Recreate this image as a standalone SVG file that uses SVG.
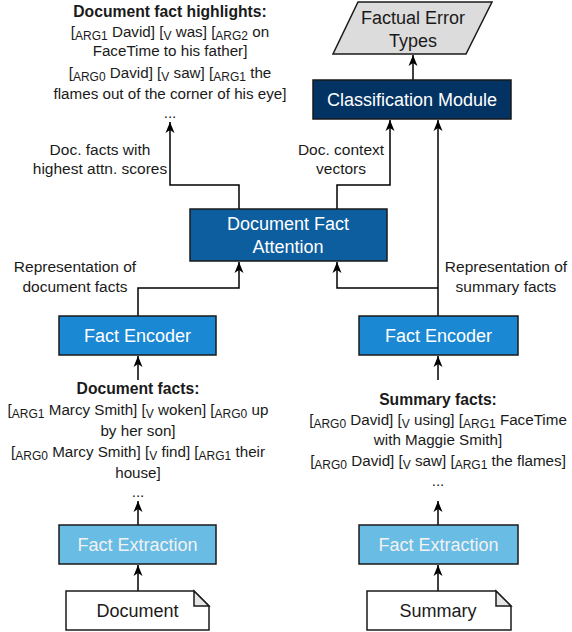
<svg xmlns="http://www.w3.org/2000/svg" width="572" height="632" viewBox="0 0 572 632">
<style>
text{font-family:"Liberation Sans",Arial,sans-serif;fill:#1a1a1a}
.t{font-size:15.2px;text-anchor:middle}
.l{font-size:15.5px;text-anchor:middle}
.b{font-weight:bold;font-size:15.7px}
.s{font-size:12px}
.n{font-size:18px;text-anchor:middle;fill:#ffffff}
.box{stroke:#1a1a1a;stroke-width:1.5}
.ln{fill:none;stroke:#000;stroke-width:1.5}
</style>
<defs>
<marker id="ah" markerUnits="userSpaceOnUse" markerWidth="12" markerHeight="12" viewBox="0 0 12 12" refX="11" refY="6" orient="auto">
<path d="M0,1.5 L11,6 L0,10.5 L3,6 z" fill="#000"/>
</marker>
</defs>
<g id="connectors">
<path class="ln" d="M413,80 V55" marker-end="url(#ah)"/>
<path class="ln" d="M239,209 V185 H170 V122" marker-end="url(#ah)"/>
<path class="ln" d="M337,209 V185 H390 V120" marker-end="url(#ah)"/>
<path class="ln" d="M438,316 V120" marker-end="url(#ah)"/>
<path class="ln" d="M438,288 H337 V262" marker-end="url(#ah)"/>
<path class="ln" d="M138,316 V288 H239 V262" marker-end="url(#ah)"/>
<path class="ln" d="M138,380 V356" marker-end="url(#ah)"/>
<path class="ln" d="M438,380 V356" marker-end="url(#ah)"/>
<path class="ln" d="M138,525 V501" marker-end="url(#ah)"/>
<path class="ln" d="M438,525 V501" marker-end="url(#ah)"/>
<path class="ln" d="M138,591 V565" marker-end="url(#ah)"/>
<path class="ln" d="M438,591 V565" marker-end="url(#ah)"/>
</g>
<g id="factual-error-types">
<polygon class="box" points="358,2 492,2 466,54 333,54" fill="#dcdcdc"/>
<text class="n" x="413" y="24" style="fill:#1a1a1a">Factual Error</text>
<text class="n" x="413" y="47" style="fill:#1a1a1a">Types</text>
</g>
<g id="classification-module">
<rect class="box" x="313" y="80" width="198" height="39" fill="#033363"/>
<text class="n" x="412" y="106">Classification Module</text>
</g>
<g id="document-fact-attention">
<rect class="box" x="190" y="209" width="197" height="52" fill="#0d5e9f"/>
<text class="n" x="288" y="230">Document Fact</text>
<text class="n" x="288" y="253">Attention</text>
</g>
<g id="fact-encoder-doc">
<rect class="box" x="59" y="316" width="157" height="39" fill="#1b88d3"/>
<text class="n" x="137.5" y="342">Fact Encoder</text>
</g>
<g id="fact-encoder-sum">
<rect class="box" x="359" y="316" width="159" height="39" fill="#1b88d3"/>
<text class="n" x="438.5" y="342">Fact Encoder</text>
</g>
<g id="fact-extraction-doc">
<rect class="box" x="59" y="525" width="157" height="39" fill="#69bce4"/>
<text class="n" x="137.5" y="551" style="fill:#f2f2f2">Fact Extraction</text>
</g>
<g id="fact-extraction-sum">
<rect class="box" x="359" y="525" width="159" height="39" fill="#69bce4"/>
<text class="n" x="438.5" y="551" style="fill:#f2f2f2">Fact Extraction</text>
</g>
<g id="document">
<path class="box" d="M66,591 H194 L209,606 V630 H66 Z" fill="#ffffff"/>
<path class="box" d="M194,591 V606 H209 Z" fill="#e6e6e6"/>
<text class="n" x="137.5" y="617" style="fill:#1a1a1a">Document</text>
</g>
<g id="summary">
<path class="box" d="M367,591 H496 L511,606 V630 H367 Z" fill="#ffffff"/>
<path class="box" d="M496,591 V606 H511 Z" fill="#e6e6e6"/>
<text class="n" x="438" y="617" style="fill:#1a1a1a">Summary</text>
</g>
<g id="labels">
<text class="l" x="100" y="155">Doc. facts with</text>
<text class="l" x="100" y="174">highest attn. scores</text>
<text class="l" x="341" y="155">Doc. context</text>
<text class="l" x="341" y="174">vectors</text>
<text class="l" x="75" y="272">Representation of</text>
<text class="l" x="75" y="292">document facts</text>
<text class="l" x="506" y="272">Representation of</text>
<text class="l" x="506" y="292">summary facts</text>
</g>
<g id="doc-fact-highlights">
<text class="t b" x="170" y="17">Document fact highlights:</text>
<text class="t" x="170" y="37">[<tspan class="s" dy="3">ARG1</tspan><tspan dy="-3"> David] [</tspan><tspan class="s" dy="3">V</tspan><tspan dy="-3"> was] [</tspan><tspan class="s" dy="3">ARG2</tspan><tspan dy="-3"> on</tspan></text>
<text class="t" x="170" y="56">FaceTime to his father]</text>
<text class="t" x="170" y="78">[<tspan class="s" dy="3">ARG0</tspan><tspan dy="-3"> David] [</tspan><tspan class="s" dy="3">V</tspan><tspan dy="-3"> saw] [</tspan><tspan class="s" dy="3">ARG1</tspan><tspan dy="-3"> the</tspan></text>
<text class="t" x="170" y="99">flames out of the corner of his eye]</text>
<text class="t" x="170" y="118">...</text>
</g>
<g id="document-facts">
<text class="t b" x="138" y="394">Document facts:</text>
<text class="t" x="138" y="415">[<tspan class="s" dy="3">ARG1</tspan><tspan dy="-3"> Marcy Smith] [</tspan><tspan class="s" dy="3">V</tspan><tspan dy="-3"> woken] [</tspan><tspan class="s" dy="3">ARG0</tspan><tspan dy="-3"> up</tspan></text>
<text class="t" x="138" y="436">by her son]</text>
<text class="t" x="138" y="457">[<tspan class="s" dy="3">ARG0</tspan><tspan dy="-3"> Marcy Smith] [</tspan><tspan class="s" dy="3">V</tspan><tspan dy="-3"> find] [</tspan><tspan class="s" dy="3">ARG1</tspan><tspan dy="-3"> their</tspan></text>
<text class="t" x="138" y="478">house]</text>
<text class="t" x="138" y="497">...</text>
</g>
<g id="summary-facts">
<text class="t b" x="438" y="405">Summary facts:</text>
<text class="t" x="438" y="425">[<tspan class="s" dy="3">ARG0</tspan><tspan dy="-3"> David] [</tspan><tspan class="s" dy="3">V</tspan><tspan dy="-3"> using] [</tspan><tspan class="s" dy="3">ARG1</tspan><tspan dy="-3"> FaceTime</tspan></text>
<text class="t" x="438" y="445">with Maggie Smith]</text>
<text class="t" x="438" y="466">[<tspan class="s" dy="3">ARG0</tspan><tspan dy="-3"> David] [</tspan><tspan class="s" dy="3">V</tspan><tspan dy="-3"> saw] [</tspan><tspan class="s" dy="3">ARG1</tspan><tspan dy="-3"> the flames]</tspan></text>
<text class="t" x="438" y="486">...</text>
</g>
</svg>
